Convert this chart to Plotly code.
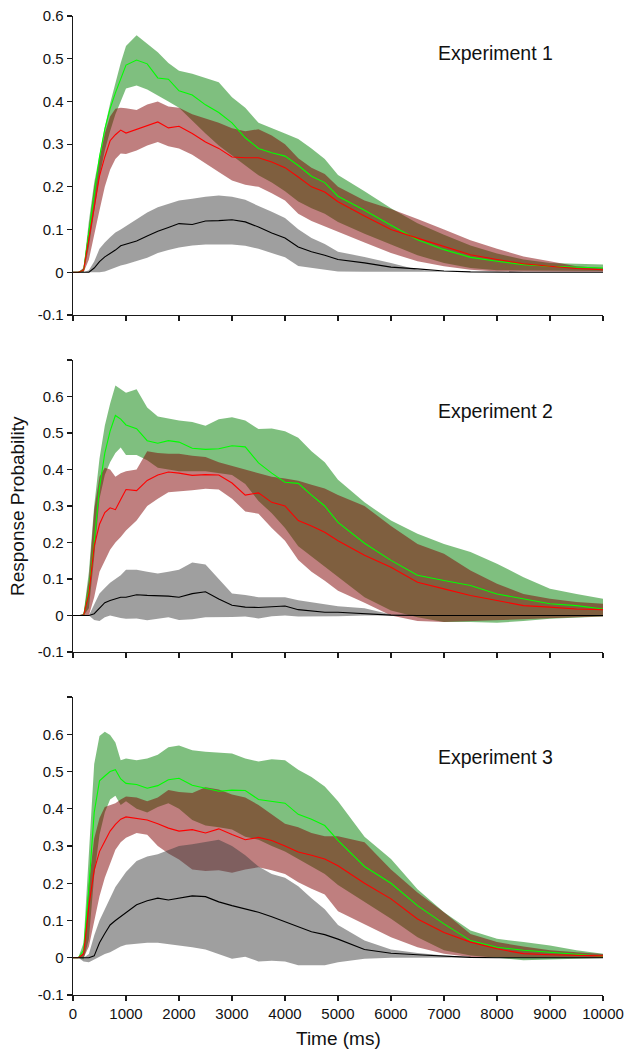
import plotly.graph_objects as go

# ---------------- data ----------------
TIME = [0, 100, 200, 300, 400, 500, 600, 700, 800, 900,
        1000, 1200, 1400, 1600, 1800, 2000,
        2250, 2500, 2750, 3000, 3250, 3500, 3750, 4000, 4250, 4500, 4750,
        5000, 5500, 6000, 6500, 7000, 7500, 8000, 8500, 9000, 9500, 10000]

X_TICKS = [0, 1000, 2000, 3000, 4000, 5000, 6000, 7000, 8000, 9000, 10000]
X_TICK_LABELS = ["0", "1000", "2000", "3000", "4000", "5000", "6000", "7000", "8000", "9000", "10000"]
Y_TICKS_1 = [-0.1, 0, 0.1, 0.2, 0.3, 0.4, 0.5, 0.6]
Y_TICKS_23 = [-0.1, 0, 0.1, 0.2, 0.3, 0.4, 0.5, 0.6, 0.7]
Y_TICK_LABELS = ["-0.1", "0", "0.1", "0.2", "0.3", "0.4", "0.5", "0.6", ""]
PANEL_TITLES = ["Experiment 1", "Experiment 2", "Experiment 3"]

# Experiment 1
E1_GREEN_MEAN = [0, 0, 0.005, 0.095, 0.185, 0.27, 0.335, 0.383, 0.42, 0.455,
                 0.485, 0.497, 0.488, 0.455, 0.452, 0.425,
                 0.415, 0.392, 0.374, 0.35, 0.315, 0.29, 0.28, 0.272, 0.25, 0.225, 0.21,
                 0.178, 0.145, 0.11, 0.076, 0.053, 0.035, 0.026, 0.018, 0.014, 0.012, 0.01]
E1_GREEN_HI = [0, 0, 0.01, 0.12, 0.21, 0.28, 0.34, 0.395, 0.445, 0.49,
               0.53, 0.555, 0.535, 0.515, 0.49, 0.472,
               0.465, 0.455, 0.445, 0.41, 0.385, 0.35, 0.338, 0.325, 0.312, 0.29, 0.265,
               0.228, 0.19, 0.15, 0.115, 0.088, 0.063, 0.044, 0.03, 0.022, 0.02, 0.018]
E1_GREEN_LO = [0, 0, 0, 0.06, 0.145, 0.225, 0.285, 0.33, 0.37, 0.4,
               0.43, 0.437, 0.428, 0.415, 0.4, 0.385,
               0.355, 0.325, 0.297, 0.272, 0.25, 0.227, 0.21, 0.19, 0.166, 0.15, 0.137,
               0.118, 0.09, 0.065, 0.04, 0.022, 0.01, 0.005, 0.004, 0.003, 0.003, 0.003]
E1_RED_MEAN = [0, 0, 0.005, 0.075, 0.155, 0.225, 0.27, 0.308, 0.322, 0.333,
               0.326, 0.335, 0.343, 0.352, 0.338, 0.342,
               0.325, 0.305, 0.29, 0.27, 0.268, 0.268, 0.258, 0.245, 0.223, 0.2, 0.188,
               0.165, 0.132, 0.1, 0.08, 0.061, 0.041, 0.03, 0.02, 0.014, 0.009, 0.006]
E1_RED_HI = [0, 0, 0.01, 0.1, 0.2, 0.265, 0.325, 0.365, 0.383, 0.385,
             0.384, 0.38, 0.393, 0.4, 0.388, 0.385,
             0.37, 0.36, 0.35, 0.337, 0.33, 0.335, 0.32, 0.3, 0.267, 0.245, 0.23,
             0.2, 0.168, 0.148, 0.125, 0.1, 0.075, 0.055, 0.037, 0.026, 0.014, 0.01]
E1_RED_LO = [0, 0, 0, 0.03, 0.09, 0.145, 0.2, 0.24, 0.265, 0.278,
             0.277, 0.285, 0.297, 0.305, 0.295, 0.29,
             0.275, 0.255, 0.235, 0.215, 0.205, 0.2, 0.185, 0.168, 0.137, 0.12, 0.108,
             0.095, 0.07, 0.045, 0.026, 0.014, 0.006, 0.002, 0.001, 0.001, 0.001, 0.001]
E1_BLACK_MEAN = [0, 0, 0, 0, 0.01, 0.025, 0.036, 0.043, 0.052, 0.062,
                 0.066, 0.073, 0.085, 0.096, 0.105, 0.114,
                 0.112, 0.12, 0.121, 0.123, 0.118, 0.106, 0.092, 0.08, 0.059, 0.048, 0.04,
                 0.03, 0.022, 0.012, 0.008, 0.003, 0.001, 0, 0, 0, 0, 0]
E1_GRAY_HI = [0, 0, 0, 0.005, 0.025, 0.055, 0.07, 0.082, 0.093, 0.1,
              0.108, 0.122, 0.14, 0.152, 0.16, 0.168,
              0.172, 0.177, 0.18, 0.177, 0.17, 0.155, 0.142, 0.127, 0.101, 0.08, 0.066,
              0.048, 0.036, 0.022, 0.006, 0.002, 0.001, 0.001, 0.001, 0.001, 0.001, 0.001]
E1_GRAY_LO = [0, 0, 0, 0, 0, 0, 0.002, 0.006, 0.011, 0.016,
              0.019, 0.026, 0.034, 0.045, 0.052, 0.058,
              0.063, 0.065, 0.065, 0.065, 0.062, 0.055, 0.045, 0.035, 0.015, 0.01, 0.006,
              0.002, 0.001, 0, 0, 0, 0, 0, 0, 0, 0, 0]

# Experiment 2
E2_GREEN_MEAN = [0, 0, 0, 0.07, 0.2, 0.35, 0.445, 0.505, 0.548, 0.538,
                 0.522, 0.512, 0.479, 0.472, 0.479, 0.475,
                 0.458, 0.455, 0.457, 0.465, 0.462, 0.418, 0.39, 0.365, 0.362, 0.33, 0.3,
                 0.255, 0.198, 0.151, 0.11, 0.096, 0.082, 0.059, 0.046, 0.032, 0.027, 0.018]
E2_GREEN_HI = [0, 0, 0.005, 0.12, 0.3, 0.43, 0.52, 0.58, 0.63, 0.62,
               0.61, 0.62, 0.57, 0.545, 0.54, 0.534,
               0.53, 0.52, 0.538, 0.543, 0.534, 0.511, 0.512, 0.505, 0.487, 0.45, 0.42,
               0.372, 0.31, 0.26, 0.224, 0.196, 0.174, 0.142, 0.105, 0.073, 0.059, 0.046]
E2_GREEN_LO = [0, 0, 0, 0.02, 0.16, 0.32, 0.385, 0.42, 0.445, 0.46,
               0.44, 0.44, 0.425, 0.405, 0.4, 0.395,
               0.395, 0.395, 0.39, 0.385, 0.36, 0.314, 0.28, 0.24, 0.19, 0.16, 0.135,
               0.105, 0.05, 0.014, -0.005, -0.018, -0.018, -0.02, -0.015, -0.009, -0.006, -0.003]
E2_RED_MEAN = [0, 0, 0, 0.06, 0.19, 0.25, 0.282, 0.295, 0.29, 0.318,
               0.345, 0.342, 0.37, 0.385, 0.393, 0.39,
               0.384, 0.386, 0.385, 0.363, 0.33, 0.336, 0.31, 0.3, 0.26, 0.245, 0.228,
               0.205, 0.165, 0.132, 0.091, 0.073, 0.055, 0.041, 0.027, 0.023, 0.018, 0.016]
E2_RED_HI = [0, 0, 0.005, 0.1, 0.29, 0.38, 0.405, 0.4, 0.38, 0.39,
             0.395, 0.4, 0.45, 0.445, 0.443, 0.443,
             0.438, 0.434, 0.42, 0.41, 0.4, 0.39, 0.38, 0.375, 0.369, 0.358, 0.348,
             0.33, 0.3, 0.245, 0.196, 0.169, 0.123, 0.087, 0.059, 0.046, 0.037, 0.032]
E2_RED_LO = [0, 0, 0, 0, 0.05, 0.12, 0.15, 0.18, 0.2, 0.215,
             0.233, 0.26, 0.3, 0.32, 0.338, 0.34,
             0.343, 0.347, 0.345, 0.32, 0.285, 0.279, 0.24, 0.205, 0.152, 0.12, 0.095,
             0.068, 0.035, 0.0, -0.015, -0.018, -0.016, -0.012, -0.01, -0.008, -0.005, -0.003]
E2_BLACK_MEAN = [0, 0, 0, 0, 0.005, 0.02, 0.035, 0.041, 0.046, 0.05,
                 0.05, 0.057, 0.055, 0.055, 0.053, 0.05,
                 0.06, 0.065, 0.045, 0.028, 0.023, 0.022, 0.023, 0.026, 0.016, 0.012, 0.009,
                 0.009, 0.004, 0.001, 0, 0, 0, 0, 0, 0, 0, 0]
E2_GRAY_HI = [0, 0, 0, 0, 0.03, 0.06, 0.075, 0.09, 0.1, 0.11,
              0.125, 0.125, 0.12, 0.115, 0.12, 0.125,
              0.145, 0.14, 0.1, 0.06, 0.056, 0.05, 0.05, 0.05, 0.042, 0.036, 0.03,
              0.025, 0.02, 0.003, 0.001, 0.001, 0.001, 0.001, 0.001, 0.001, 0.001, 0.001]
E2_GRAY_LO = [0, 0, 0, 0, -0.012, -0.015, -0.005, 0, -0.003, -0.007,
              -0.009, -0.008, -0.013, -0.01, -0.005, -0.012,
              -0.01, -0.005, -0.004, -0.004, -0.003, -0.008, -0.002, 0, -0.003, -0.003, -0.002,
              -0.002, 0, 0, 0, 0, 0, 0, 0, 0, 0, 0]

# Experiment 3
E3_GREEN_MEAN = [0, 0, 0.02, 0.19, 0.39, 0.475, 0.488, 0.5, 0.505, 0.48,
                 0.468, 0.465, 0.455, 0.462, 0.478, 0.482,
                 0.463, 0.456, 0.447, 0.45, 0.449, 0.425, 0.42, 0.415, 0.385, 0.372, 0.355,
                 0.315, 0.245, 0.2, 0.14, 0.091, 0.046, 0.028, 0.02, 0.015, 0.008, 0.004]
E3_GREEN_HI = [0, 0, 0.04, 0.27, 0.52, 0.595, 0.607, 0.598, 0.578, 0.53,
               0.535, 0.53, 0.535, 0.545, 0.565, 0.57,
               0.557, 0.553, 0.55, 0.548, 0.535, 0.527, 0.533, 0.53, 0.505, 0.485, 0.46,
               0.42, 0.325, 0.265, 0.184, 0.122, 0.073, 0.051, 0.042, 0.033, 0.02, 0.011]
E3_GREEN_LO = [0, 0, -0.005, 0.05, 0.22, 0.33, 0.39, 0.425, 0.435, 0.41,
               0.42, 0.4, 0.39, 0.405, 0.415, 0.4,
               0.37, 0.355, 0.35, 0.344, 0.325, 0.317, 0.3, 0.285, 0.265, 0.245, 0.225,
               0.195, 0.15, 0.105, 0.055, 0.02, 0.006, 0.0, -0.007, -0.005, -0.003, -0.001]
E3_RED_MEAN = [0, 0, 0.01, 0.14, 0.235, 0.285, 0.313, 0.34, 0.358, 0.372,
               0.378, 0.375, 0.37, 0.36, 0.348, 0.34,
               0.344, 0.335, 0.346, 0.331, 0.317, 0.323, 0.315, 0.3, 0.284, 0.275, 0.265,
               0.247, 0.2, 0.158, 0.104, 0.068, 0.042, 0.024, 0.011, 0.008, 0.006, 0.005]
E3_RED_HI = [0, 0, 0.015, 0.2, 0.32, 0.375, 0.405, 0.41, 0.415, 0.425,
             0.433, 0.43, 0.42, 0.43, 0.45, 0.445,
             0.442, 0.458, 0.452, 0.438, 0.43, 0.41, 0.385, 0.36, 0.35, 0.335, 0.326,
             0.326, 0.31, 0.237, 0.175, 0.122, 0.064, 0.042, 0.03, 0.02, 0.015, 0.01]
E3_RED_LO = [0, 0, 0, 0.03, 0.1, 0.165, 0.215, 0.255, 0.29, 0.31,
             0.322, 0.335, 0.33, 0.3, 0.28, 0.264,
             0.237, 0.233, 0.235, 0.228, 0.237, 0.243, 0.235, 0.225, 0.203, 0.185, 0.17,
             0.125, 0.09, 0.055, 0.028, 0.011, 0.002, 0, 0, 0, 0, 0]
E3_BLACK_MEAN = [0, 0, 0, 0, 0.005, 0.04, 0.065, 0.088, 0.1, 0.11,
                 0.122, 0.142, 0.153, 0.16, 0.155, 0.16,
                 0.166, 0.164, 0.15, 0.14, 0.132, 0.122, 0.11, 0.097, 0.083, 0.07, 0.062,
                 0.05, 0.022, 0.012, 0.008, 0.004, 0.001, 0, 0, 0, 0, 0]
E3_GRAY_HI = [0, 0, 0, 0.01, 0.06, 0.1, 0.13, 0.16, 0.19, 0.21,
              0.23, 0.26, 0.272, 0.278, 0.29, 0.3,
              0.305, 0.31, 0.317, 0.3, 0.275, 0.245, 0.225, 0.215, 0.192, 0.16, 0.13,
              0.088, 0.046, 0.022, 0.013, 0.006, 0.002, 0.002, 0.001, 0.001, 0.001, 0.001]
E3_GRAY_LO = [0, 0, -0.01, -0.012, -0.005, 0.003, 0.01, 0.015, 0.022, 0.03,
              0.035, 0.037, 0.04, 0.04, 0.035, 0.032,
              0.028, 0.022, 0.01, -0.003, 0.003, -0.01, -0.008, -0.01, -0.02, -0.02, -0.02,
              -0.012, -0.003, 0, 0, 0, 0, 0, 0, 0, 0, 0]

# ---------------- styles ----------------
FONT = "Liberation Sans, Arial, Helvetica, sans-serif"
AXIS_COLOR = "#1a1a1a"
GREEN_FILL = "rgba(0,128,0,0.5)"
RED_FILL = "rgba(128,0,0,0.5)"
GRAY_FILL = "rgba(64,64,64,0.5)"
GREEN_LINE = "rgb(0,255,0)"
RED_LINE = "rgb(255,0,0)"
BLACK_LINE = "rgb(0,0,0)"

W, H = 627, 1050
X_DOMAIN = [73 / W, 603 / W]
# pixel (top, bottom) of each panel's plotting area
PANEL_PX = [(16, 315), (360, 652), (697, 995)]
TITLE_PX_Y = [53, 411, 757]

panels = [
    dict(gm=E1_GREEN_MEAN, gh=E1_GREEN_HI, gl=E1_GREEN_LO,
         rm=E1_RED_MEAN, rh=E1_RED_HI, rl=E1_RED_LO,
         km=E1_BLACK_MEAN, kh=E1_GRAY_HI, kl=E1_GRAY_LO,
         yr=[-0.1, 0.6], yt=Y_TICKS_1),
    dict(gm=E2_GREEN_MEAN, gh=E2_GREEN_HI, gl=E2_GREEN_LO,
         rm=E2_RED_MEAN, rh=E2_RED_HI, rl=E2_RED_LO,
         km=E2_BLACK_MEAN, kh=E2_GRAY_HI, kl=E2_GRAY_LO,
         yr=[-0.1, 0.7], yt=Y_TICKS_23),
    dict(gm=E3_GREEN_MEAN, gh=E3_GREEN_HI, gl=E3_GREEN_LO,
         rm=E3_RED_MEAN, rh=E3_RED_HI, rl=E3_RED_LO,
         km=E3_BLACK_MEAN, kh=E3_GRAY_HI, kl=E3_GRAY_LO,
         yr=[-0.1, 0.7], yt=Y_TICKS_23),
]

fig = go.Figure()


def band(x, hi, lo, color, xa, ya):
    return go.Scatter(x=list(x) + list(x)[::-1], y=list(hi) + list(lo)[::-1],
                      fill="toself", fillcolor=color, line=dict(width=0),
                      mode="lines", hoverinfo="skip", showlegend=False,
                      xaxis=xa, yaxis=ya)


def line(x, y, color, xa, ya):
    return go.Scatter(x=x, y=y, mode="lines", line=dict(color=color, width=1.1),
                      hoverinfo="skip", showlegend=False, xaxis=xa, yaxis=ya)


layout_axes = {}
annotations = []
for i, p in enumerate(panels):
    n = "" if i == 0 else str(i + 1)
    xa, ya = "x" + n, "y" + n
    fig.add_trace(band(TIME, p["gh"], p["gl"], GREEN_FILL, xa, ya))
    fig.add_trace(band(TIME, p["rh"], p["rl"], RED_FILL, xa, ya))
    fig.add_trace(band(TIME, p["kh"], p["kl"], GRAY_FILL, xa, ya))
    fig.add_trace(line(TIME, p["gm"], GREEN_LINE, xa, ya))
    fig.add_trace(line(TIME, p["rm"], RED_LINE, xa, ya))
    fig.add_trace(line(TIME, p["km"], BLACK_LINE, xa, ya))

    top, bot = PANEL_PX[i]
    ydom = [1 - bot / H, 1 - top / H]
    last = i == len(panels) - 1
    layout_axes["xaxis" + n] = dict(
        domain=X_DOMAIN, range=[0, 10000], anchor=ya,
        tickmode="array", tickvals=X_TICKS, ticktext=X_TICK_LABELS,
        showticklabels=last, ticks="outside", ticklen=5, tickwidth=1.2,
        tickcolor=AXIS_COLOR, showline=True, linecolor=AXIS_COLOR, linewidth=1.3,
        showgrid=False, zeroline=False, automargin=False,
        tickfont=dict(family=FONT, size=15, color="#111"),
    )
    layout_axes["yaxis" + n] = dict(
        domain=ydom, range=p["yr"], anchor=xa,
        tickmode="array", tickvals=p["yt"], ticktext=Y_TICK_LABELS[:len(p["yt"])],
        ticks="outside", ticklen=5, tickwidth=1.2, tickcolor=AXIS_COLOR,
        showline=True, linecolor=AXIS_COLOR, linewidth=1.3,
        showgrid=False, zeroline=False, automargin=False,
        tickfont=dict(family=FONT, size=15, color="#111"),
    )
    annotations.append(dict(
        text=PANEL_TITLES[i], xref="paper", yref="paper",
        x=495 / W, y=1 - TITLE_PX_Y[i] / H, xanchor="center", yanchor="middle",
        showarrow=False, font=dict(family=FONT, size=19.5, color="#111"),
    ))

annotations.append(dict(
    text="Response Probability", xref="paper", yref="paper",
    x=18 / W, y=1 - 506 / H, xanchor="center", yanchor="middle", textangle=-90,
    showarrow=False, font=dict(family=FONT, size=19, color="#111"),
))
annotations.append(dict(
    text="Time (ms)", xref="paper", yref="paper",
    x=338 / W, y=1 - 1038 / H, xanchor="center", yanchor="middle",
    showarrow=False, font=dict(family=FONT, size=19, color="#111"),
))

fig.update_layout(
    width=W, height=H,
    margin=dict(l=0, r=0, t=0, b=0, pad=0),
    paper_bgcolor="white", plot_bgcolor="white",
    font=dict(family=FONT, color="#111"),
    annotations=annotations,
    showlegend=False,
    **layout_axes,
)

fig.write_html(
    "out.html",
    config={"displayModeBar": False, "staticPlot": True},
    post_script="document.body.style.margin='0';document.body.style.overflow='hidden';",
)
